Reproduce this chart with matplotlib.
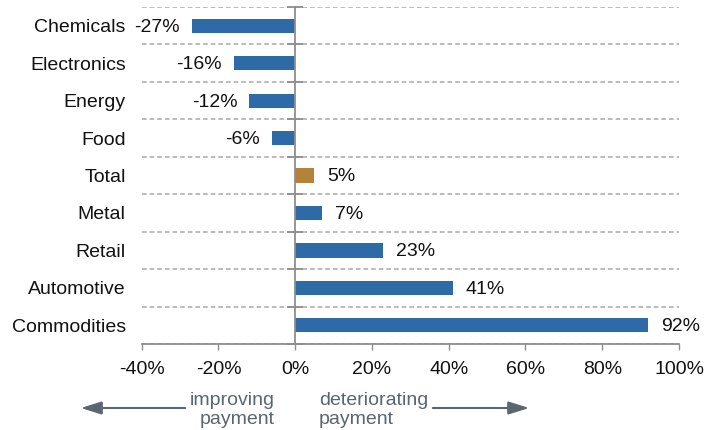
import numpy as np
import matplotlib
matplotlib.use("Agg")
import matplotlib.pyplot as plt
from matplotlib.ticker import FixedLocator, FuncFormatter

categories = ["Chemicals", "Electronics", "Energy", "Food", "Total",
              "Metal", "Retail", "Automotive", "Commodities"]
values = [-27, -16, -12, -6, 5, 7, 23, 41, 92]
highlight = "Total"
xticks = [-40, -20, 0, 20, 40, 60, 80, 100]

BLUE = "#2D6AA6"
GOLD = "#B5823A"
GRAY = "#8E8E8E"
NOTE = "#5A6670"

plt.rcParams["font.family"] = ["Liberation Sans", "DejaVu Sans"]
plt.rcParams["font.size"] = 14

fig = plt.figure(figsize=(7.07, 4.30), dpi=100)
ax = fig.add_axes([0.2004, 0.2, 0.9604 - 0.2004, 0.9837 - 0.2])

y = np.arange(len(categories))
colors = [GOLD if c == highlight else BLUE for c in categories]
ax.barh(y, values, height=0.38, color=colors, edgecolor="none", zorder=2)

for yi, v in zip(y, values):
    if v < 0:
        ax.annotate(f"{v}%", (v, yi), xytext=(-8.5, -1), textcoords="offset points",
                    ha="right", va="center", fontsize=14, color="#111111")
    else:
        ax.annotate(f"{v}%", (v, yi), xytext=(9, -1), textcoords="offset points",
                    ha="left", va="center", fontsize=14, color="#111111")

ax.set_xlim(-40, 100)
ax.set_ylim(len(categories) - 0.5, -0.5)
ax.set_xticks(xticks)
ax.xaxis.set_major_formatter(FuncFormatter(lambda v, p: f"{int(v)}%"))
ax.tick_params(axis="x", direction="out", length=4.5, width=1, color=GRAY,
               pad=8, labelsize=14, labelcolor="#111111")

# zero line as the left spine
ax.spines["left"].set_position(("data", 0))
ax.spines["left"].set_color(GRAY)
ax.spines["left"].set_linewidth(1.3)
ax.spines["bottom"].set_color(GRAY)
ax.spines["bottom"].set_linewidth(1.3)
ax.spines["top"].set_visible(False)
ax.spines["right"].set_visible(False)

ax.set_yticks([])
ax.yaxis.set_minor_locator(FixedLocator(np.arange(-0.5, len(categories), 1.0)))
ax.tick_params(axis="y", which="minor", direction="inout", length=12,
               width=1.3, color=GRAY, labelleft=False)
ax.grid(axis="y", which="minor", linestyle=(0, (3, 2)), color="#A8A8A8",
        linewidth=1.1, zorder=0)
ax.set_axisbelow(True)

sec = ax.secondary_yaxis("left")
sec.set_yticks(y, labels=categories)
sec.tick_params(length=0, pad=11.5, labelsize=14, labelcolor="#111111")
sec.spines["left"].set_visible(False)

# bottom annotations
fig.text(0.389, 1 - 410 / 430, "improving\npayment", ha="right", va="center",
         fontsize=14, color=NOTE, linespacing=1.12)
fig.text(0.451, 1 - 410 / 430, "deteriorating\npayment", ha="left", va="center",
         fontsize=14, color=NOTE, linespacing=1.12)
arrow_kw = dict(arrowstyle="-|>,head_length=0.9,head_width=0.28",
                color=NOTE, lw=1.5, mutation_scale=14)
fig.add_artist(matplotlib.patches.FancyArrowPatch(
    (188 / 707, 1 - 408 / 430), (78 / 707, 1 - 408 / 430),
    transform=fig.transFigure, **arrow_kw))
fig.add_artist(matplotlib.patches.FancyArrowPatch(
    (430 / 707, 1 - 408 / 430), (532 / 707, 1 - 408 / 430),
    transform=fig.transFigure, **arrow_kw))

fig.savefig("out.png", dpi=100)
